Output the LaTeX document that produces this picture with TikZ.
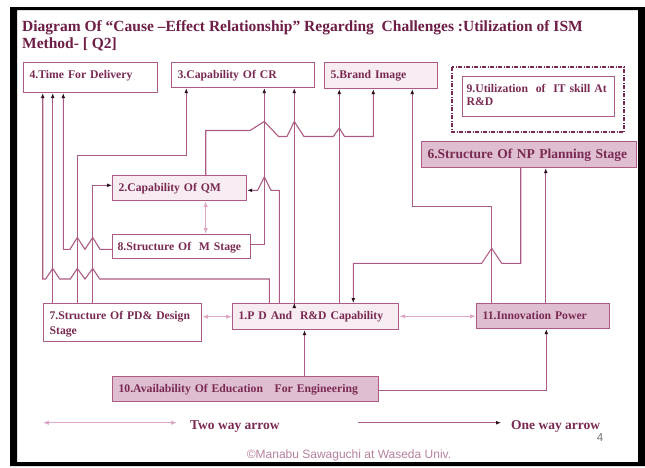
\documentclass[tikz,border=0pt]{standalone}
\usepackage{fontspec}
\setmainfont{Liberation Serif}
\newfontfamily\cpyfont{Liberation Sans}
\usepackage{tikz}
\usetikzlibrary{arrows.meta,positioning,calc}

\definecolor{ttlc}{RGB}{110,30,70}
\definecolor{txtc}{RGB}{122,42,82}
\definecolor{lnc}{RGB}{172,92,132}
\definecolor{lgtc}{RGB}{247,236,242}
\definecolor{drkc}{RGB}{222,190,208}
\definecolor{twoc}{RGB}{220,168,198}
\definecolor{cpyc}{RGB}{185,128,158}
\definecolor{tipc}{RGB}{45,15,32}
\tikzset{blk/.style={draw=lnc,line width=1.2pt,anchor=north west,inner xsep=6pt,inner ysep=0pt,align=left,text height=15.5pt,text=txtc,font=\bfseries\fontsize{11.7}{14}\selectfont}}
\tikzset{one/.style={draw=lnc,line width=1.1pt,-{Latex[length=5pt,width=4pt,color=tipc]}}}
\tikzset{two/.style={draw=twoc,line width=1.1pt,{Latex[length=6pt,width=4.5pt]}-{Latex[length=6pt,width=4.5pt]}}}
\tikzset{lgd/.style={anchor=base west,inner sep=0pt,text=txtc,font=\bfseries\fontsize{13.5}{16}\selectfont}}

\begin{document}
\begin{tikzpicture}[x=1pt, y=-1pt]
        \useasboundingbox (0,0) rectangle (645,467);
        \fill[white] (0,0) rectangle (645,467);
        \fill[black, even odd rule] (10,7) rectangle (645,466) (17,10) rectangle (638,462);
        \node[anchor=base west,inner sep=0pt,align=left,text=ttlc,font=\bfseries\fontsize{15.5}{17.5}\selectfont] (ttl) at (22,48.5) {Diagram Of “Cause –Effect Relationship” Regarding\ \ Challenges :Utilization of ISM\\Method- [ Q2]};
        % factors
        \node[blk,text width=122pt,text depth=14.5pt] (n4) at (23,62) {4.Time For Delivery};
        \node[blk,text width=131pt,text depth=9.5pt] (n3) at (171,62) {3.Capability Of CR};
        \node[blk,fill=lgtc,text width=101pt,text depth=10.5pt] (n5) at (324,62) {5.Brand Image};
        \node[blk,inner xsep=4pt,text width=144pt,text depth=24.5pt,font=\bfseries\fontsize{11.7}{13.4}\selectfont] (n9) at (462,76) {9.Utilization\ \ of\ \ IT skill At\\R\&D};
        \draw[txtc,line width=1.5pt,dash pattern=on 4pt off 1.5pt on 1pt off 1.5pt] (452,67) rectangle (624,132);
        \node[blk,fill=drkc,text width=203pt,text height=16.5pt,text depth=9.5pt,font=\bfseries\fontsize{13.5}{16}\selectfont] (n6) at (421,141) {6.Structure Of NP Planning Stage};
        \node[blk,fill=lgtc,text width=122pt,text depth=9.5pt] (n2) at (112,175) {2.Capability Of QM};
        \node[blk,inner xsep=5pt,text width=128pt,text depth=8.5pt] (n8) at (112,234) {8.Structure Of\ \ M Stage};
        \node[blk,text width=146pt,text depth=22.5pt,font=\bfseries\fontsize{11.7}{15}\selectfont] (n7) at (43,303) {7.Structure Of PD\& Design\\Stage};
        \node[blk,fill=lgtc,text width=154pt,text depth=10.5pt] (n1) at (232,303) {1.P D And\ \ R\&D Capability};
        \node[blk,fill=drkc,text width=121pt,text depth=9.5pt] (n11) at (476,303) {11.Innovation Power};
        \node[blk,fill=drkc,text width=254pt,text depth=9.5pt] (n10) at (112,376) {10.Availability Of Education\ \ \ For Engineering};
        % links
        \draw[one] (269.3,0 |- n1.north) -- (269.3,279) -- (99.7,279) -- (92.7,268.5) -- (85,279) -- (77.3,268.5) -- (70.3,279) -- (59.7,279) -- (52.7,268.5) -- (45.7,279) -- (42.7,279) -- (42.7,0 |- n4.south);
        \draw[one] (52.7,0 |- n7.north) -- (52.7,0 |- n4.south);
        \draw[one] (n8.west |- 0,249.3) -- (100,249.3) -- (92.7,237.5) -- (85,249.3) -- (77.3,237.5) -- (70,249.3) -- (63.3,249.3) -- (63.3,0 |- n4.south);
        \draw[one] (77.3,0 |- n7.north) -- (77.3,155.3) -- (186.3,155.3) -- (186.3,0 |- n3.south);
        \draw[one] (92.7,0 |- n7.north) -- (92.7,185.3) -- (n2.west |- 0,185.3);
        \draw[two] (205.7,0 |- n2.south) -- (205.7,0 |- n8.north);
        \draw[one] (205.7,0 |- n2.north) -- (205.7,130.5) -- (250,130.5) -- (264.3,121.5) -- (278.5,136.5) -- (287,136.5) -- (294.3,121.5) -- (304,136.5) -- (333.3,136.5) -- (339.3,128) -- (344.5,136.5) -- (373.3,136.5) -- (373.3,0 |- n5.south);
        \draw[one] (n8.east |- 0,244.3) -- (264.3,244.3) -- (264.3,0 |- n3.south);
        \draw[one] (279.3,0 |- n1.north) -- (279.3,190.3) -- (271,190.3) -- (264.3,177) -- (257.6,190.3) -- (n2.east |- 0,190.3);
        \draw[draw=lnc,line width=1.1pt,{Latex[reversed,length=5pt,width=4pt,color=tipc]}-{Latex[length=5pt,width=4pt,color=tipc]}] ($(294.3,0 |- n1.north)+(0,5)$) -- (294.3,0 |- n3.south);
        \draw[one] (339.3,0 |- n1.north) -- (339.3,0 |- n5.south);
        \draw[one] (520.7,0 |- n6.south) -- (520.7,263.3) -- (501.7,263.3) -- (491.7,248.3) -- (481.7,263.3) -- (353.3,263.3) -- (353.3,0 |- n1.north);
        \draw[one] (491.7,0 |- n11.north) -- (491.7,206.3) -- (412.3,206.3) -- (412.3,0 |- n5.south);
        \draw[one] (545.7,0 |- n11.north) -- (545.7,0 |- n6.south);
        \draw[two] (n1.east |- 0,316.3) -- (n11.west |- 0,316.3);
        \draw[two] (n7.east |- 0,316.7) -- (n1.west |- 0,316.7);
        \draw[one] (304.5,0 |- n10.north) -- (304.5,0 |- n1.south);
        \draw[one] (n10.east |- 0,390.7) -- (546.3,390.7) -- (546.3,0 |- n11.south);
        % legend
        \coordinate (tw1) at (42.8,422.7);
        \coordinate (tw2) at (177,422.7);
        \coordinate (ow1) at (358,422.7);
        \coordinate (ow2) at (501,422.7);
        \draw[two] (tw1) -- (tw2);
        \draw[one] (ow1) -- (ow2);
        \node[lgd] (twtxt) at (190,429) {Two way arrow};
        \node[lgd] (owtxt) at (511,429) {One way arrow};
        \node[anchor=base,inner sep=0pt,text=cpyc,font=\cpyfont\fontsize{12}{14}\selectfont] (cpy) at (349,458.5) {©Manabu Sawaguchi at Waseda Univ.};
        \node[anchor=base,inner sep=0pt,text=black!55,font=\cpyfont\fontsize{11.5}{14}\selectfont] (pg) at (600,441) {4};
\end{tikzpicture}
\end{document}
